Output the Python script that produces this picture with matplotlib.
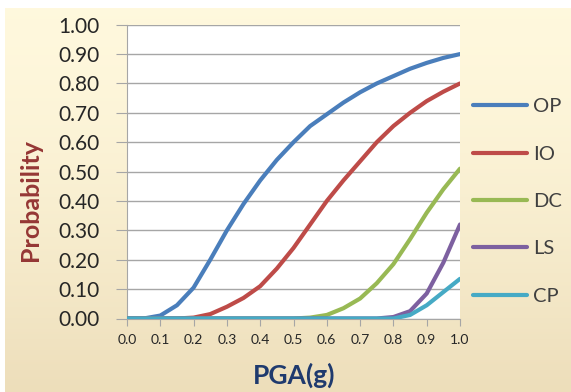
import numpy as np
import matplotlib
matplotlib.use("Agg")
import matplotlib.pyplot as plt

# PGA values (g)
pga = [0.0, 0.05, 0.10, 0.15, 0.20, 0.25, 0.30, 0.35, 0.40, 0.45, 0.50,
       0.55, 0.60, 0.65, 0.70, 0.75, 0.80, 0.85, 0.90, 0.95, 1.00]

# fragility curves
op = [0.0, 0.0, 0.01, 0.045, 0.105, 0.20, 0.30, 0.39, 0.47, 0.54, 0.60,
      0.655, 0.695, 0.735, 0.77, 0.80, 0.825, 0.85, 0.87, 0.887, 0.90]
io = [0.0, 0.0, 0.0, 0.0, 0.003, 0.015, 0.04, 0.07, 0.11, 0.17, 0.24,
      0.32, 0.40, 0.47, 0.535, 0.60, 0.655, 0.70, 0.74, 0.772, 0.80]
dc = [0.0, 0.0, 0.0, 0.0, 0.0, 0.0, 0.0, 0.0, 0.0, 0.0, 0.0,
      0.003, 0.012, 0.035, 0.068, 0.12, 0.185, 0.27, 0.36, 0.44, 0.51]
ls = [0.0, 0.0, 0.0, 0.0, 0.0, 0.0, 0.0, 0.0, 0.0, 0.0, 0.0,
      0.0, 0.0, 0.0, 0.0, 0.0, 0.005, 0.025, 0.085, 0.19, 0.32]
cp = [0.0, 0.0, 0.0, 0.0, 0.0, 0.0, 0.0, 0.0, 0.0, 0.0, 0.0,
      0.0, 0.0, 0.0, 0.0, 0.0, 0.0, 0.012, 0.045, 0.09, 0.135]

labels = ["OP", "IO", "DC", "LS", "CP"]
colors = ["#4A7EBB", "#BE4B48", "#98B954", "#7D60A0", "#46AAC5"]

plt.rcParams['font.family'] = ['Lato', 'DejaVu Sans']

W, H = 571, 392
fig = plt.figure(figsize=(W / 100, H / 100), dpi=100)

# cream gradient background
bg = fig.add_axes([0, 0, 1, 1], zorder=-5)
grad = np.linspace(0, 1, 256).reshape(-1, 1)
top = np.array([1.0, 0.973, 0.867])
bot = np.array([0.93, 0.87, 0.73])
img = top + (bot - top) * grad[:, :, None] ** 1.5
bg.imshow(img, extent=[5 / W, 1, 0, 1 - 8 / H], aspect="auto", origin="upper")
bg.set_xlim(0, 1)
bg.set_ylim(0, 1)
bg.axis("off")

ax = fig.add_axes([127 / W, 1 - 318.5 / H, (460 - 127) / W, (318.5 - 24.7) / H])
ax.set_facecolor("white")

series = [op, io, dc, ls, cp]
for vals, lab, col in zip(series, labels, colors):
    ax.plot(pga, vals, color=col, linewidth=3.0, label=lab,
            solid_capstyle="round", solid_joinstyle="round", zorder=3)

ax.set_xlim(0, 1.0)
ax.set_ylim(0, 1.0)
ax.set_xticks(np.arange(0, 1.01, 0.1))
ax.set_xticklabels([f"{v:.1f}" for v in np.arange(0, 1.01, 0.1)],
                   fontsize=10, color="#262626")
ax.set_yticks(np.arange(0, 1.01, 0.1))
ax.set_yticklabels([f"{v:.2f}" for v in np.arange(0, 1.01, 0.1)],
                   fontsize=15, color="#262626")
ax.yaxis.grid(True, color="#A6A6A6", linewidth=1.0)
ax.set_axisbelow(True)
ax.tick_params(axis="y", length=8, color="#A6A6A6", pad=12)
ax.tick_params(axis="x", length=5, color="#A6A6A6", pad=6)
for side in ["top", "right"]:
    ax.spines[side].set_visible(False)
for side in ["left", "bottom"]:
    ax.spines[side].set_color("#A6A6A6")

fig.text(294 / W, 1 - 375 / H, "PGA(g)", fontsize=19, fontweight="bold",
         color="#1F3A6E", ha="center", va="center")
fig.text(30 / W, 1 - 200 / H, "Probability", fontsize=18, fontweight="bold",
         color="#953735", ha="center", va="center", rotation=90)

leg = ax.legend(loc="center left", bbox_to_anchor=(473 / W, 1 - 201.5 / H),
                bbox_transform=fig.transFigure, frameon=False, fontsize=14.5,
                handlelength=2.7, handletextpad=0.3, labelspacing=1.5,
                borderpad=0, borderaxespad=0)
for t in leg.get_texts():
    t.set_color("#404040")

fig.savefig("out.png", dpi=100)
